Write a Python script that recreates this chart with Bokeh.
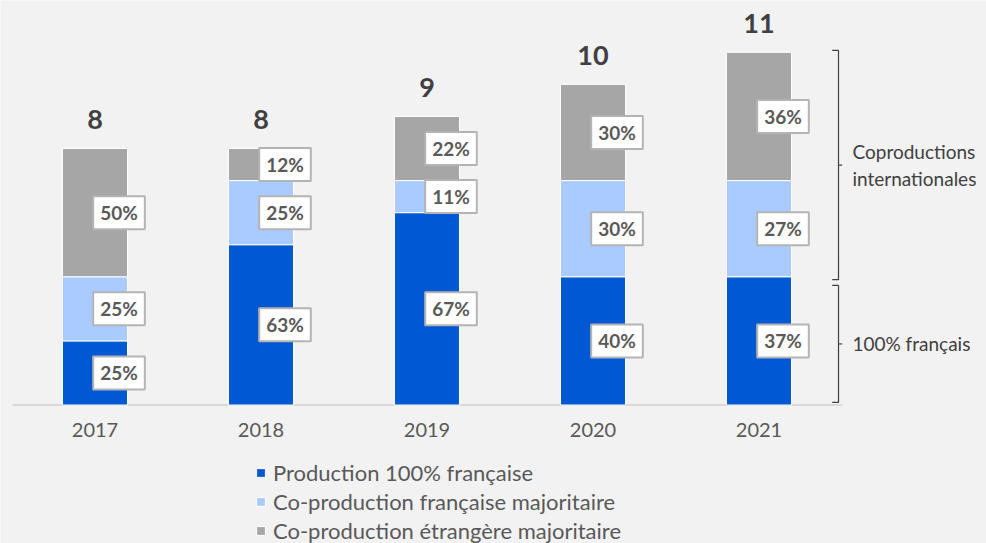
from bokeh.plotting import figure
from bokeh.models import ColumnDataSource, Legend, LegendItem, Range1d
from bokeh.core.properties import value
from bokeh.embed import file_html
from bokeh.resources import INLINE

# ---- data ----
years = ["2017", "2018", "2019", "2020", "2021"]
totals = [8, 8, 9, 10, 11]
prod_fr = [2, 5, 6, 4, 4]          # Production 100% française
coprod_fr = [2, 2, 1, 3, 3]        # Co-production française majoritaire
coprod_etr = [4, 1, 2, 3, 4]       # Co-production étrangère majoritaire
pct_prod_fr = [25, 63, 67, 40, 37]
pct_coprod_fr = [25, 25, 11, 30, 27]
pct_coprod_etr = [50, 12, 22, 30, 36]
series_names = ["Production 100% française",
                "Co-production française majoritaire",
                "Co-production étrangère majoritaire"]
colors = ["#0059D2", "#A9CBFF", "#A6A6A6"]
bracket_labels = ["Coproductions\ninternationales", "100% français"]

FONT = value("Lato")
BG = "#F2F2F2"

p = figure(width=986, height=543, output_backend="svg", toolbar_location=None,
           x_range=Range1d(-0.5693, 5.3705), y_range=Range1d(-4.32, 12.617),
           x_axis_location=None, y_axis_location=None, min_border=0,
           background_fill_color=BG, border_fill_color=BG, outline_line_color=None)
p.grid.visible = False

x = list(range(len(years)))
n = len(years)

# baseline
p.segment(x0=-0.497, y0=0, x1=4.503, y1=0, line_color="#D9D9D9", line_width=2)

bottoms = [0] * n
renderers = []
label_sources = []
for vals, pcts, color in zip([prod_fr, coprod_fr, coprod_etr],
                             [pct_prod_fr, pct_coprod_fr, pct_coprod_etr], colors):
    tops = [b + v for b, v in zip(bottoms, vals)]
    src = ColumnDataSource(dict(x=x, bottom=bottoms, top=tops,
                                mid=[(b + t) / 2 for b, t in zip(bottoms, tops)],
                                label=[f"{v}%" for v in pcts]))
    r = p.vbar(x="x", bottom="bottom", top="top", width=0.392, source=src,
               fill_color=color, line_color="white", line_width=1)
    renderers.append(r)
    label_sources.append(src)
    bottoms = tops

for src in label_sources:
    p.text(x="x", y="mid", text="label", source=src, x_offset=24,
           text_align="center", text_baseline="middle",
           text_font=FONT, text_font_style="bold", text_font_size="19px",
           text_color="#595959", background_fill_color="white",
           border_line_color="#B4B4B4", border_line_width=2,
           padding=dict(left=7, right=7, top=5, bottom=5))

# totals
tsrc = ColumnDataSource(dict(x=x, y=totals, t=[str(t) for t in totals]))
p.text(x="x", y="y", text="t", source=tsrc, y_offset=-29,
       text_align="center", text_baseline="alphabetic",
       text_font=FONT, text_font_style="bold", text_font_size="27px",
       text_color="#404040")

# year labels
ysrc = ColumnDataSource(dict(x=x, y=[0] * n, t=years))
p.text(x="x", y="y", text="t", source=ysrc, y_offset=25,
       text_align="center", text_baseline="alphabetic",
       text_font=FONT, text_font_size="20px", text_color="#595959")

# brackets
spans = [(3.91, 11.06), (0.08, 3.73)]
bx, bl, br = 4.479, 4.441, 4.501
xs, ys = [], []
for y0, y1 in spans:
    xs.append([bl, bx, bx, bl]); ys.append([y1, y1, y0, y0])
    xs.append([bx, br]); ys.append([(y0 + y1) / 2] * 2)
p.multi_line(xs=xs, ys=ys, line_color="#404040", line_width=1.2)

p.text(x=[4.563] * 2, y=[(a + b) / 2 for a, b in spans], text=bracket_labels,
       text_align="left", text_baseline="middle", text_line_height=1.17,
       text_font=FONT, text_font_size="19px", text_color="#404040")

legend = Legend(items=[LegendItem(label=nm, renderers=[r]) for nm, r in zip(series_names, renderers)],
                location=(255, -1), orientation="vertical", padding=0, margin=0,
                spacing=2, glyph_width=11, glyph_height=11, label_standoff=7,
                label_text_font="Lato", label_text_font_size="22px",
                label_text_color="#595959", border_line_color=None,
                background_fill_alpha=0)
p.add_layout(legend)

open("out.html", "w").write(file_html(p, INLINE))
